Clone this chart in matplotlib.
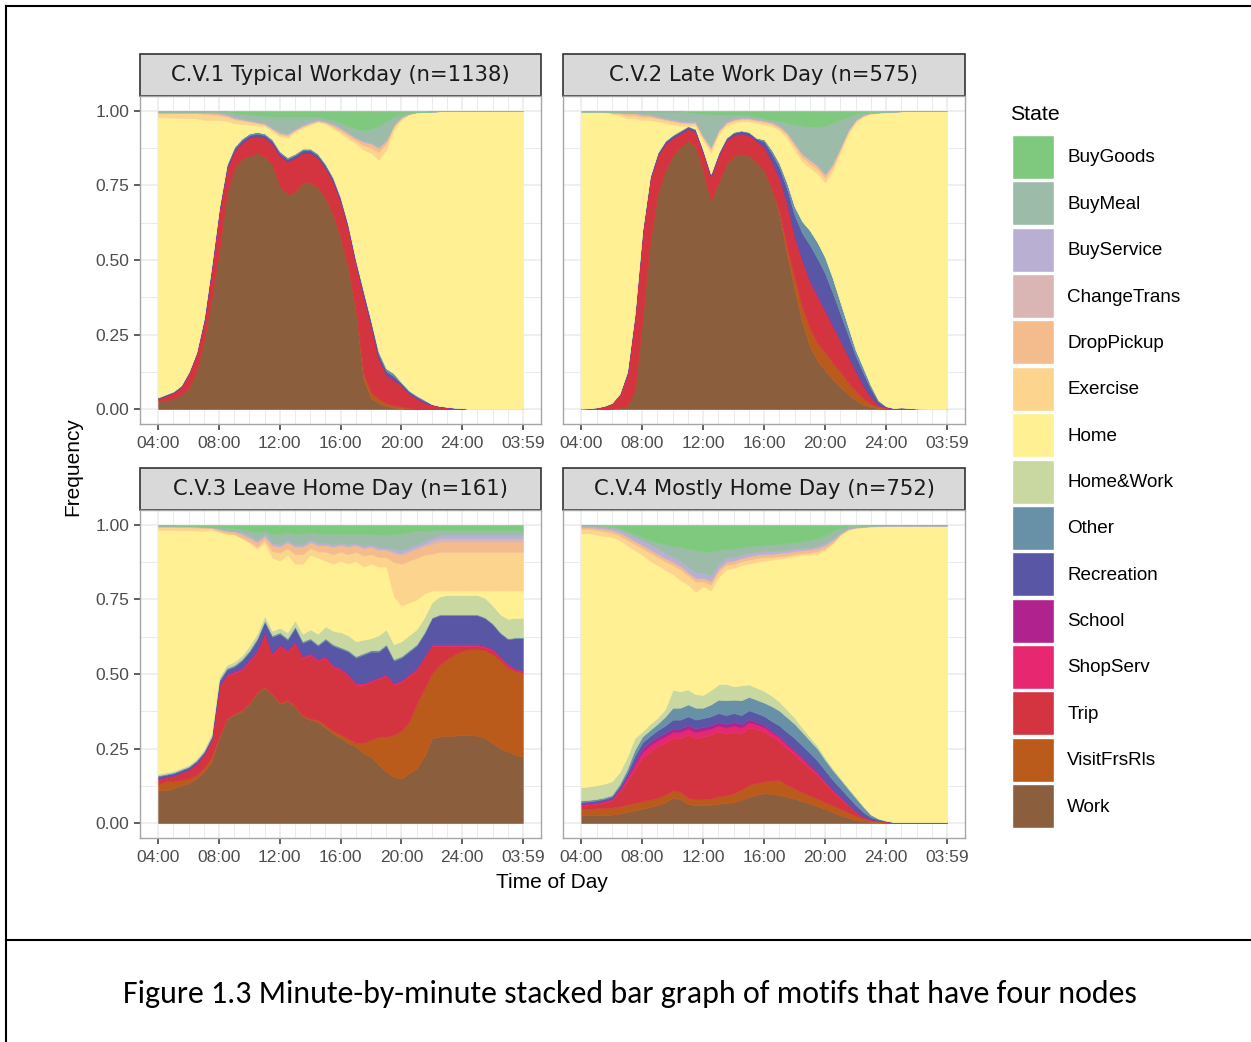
import numpy as np
import matplotlib
matplotlib.use("Agg")
import matplotlib.pyplot as plt
from matplotlib.patches import Patch, Rectangle
from matplotlib.lines import Line2D

plt.rcParams['font.family'] = ['Liberation Sans', 'DejaVu Sans']

# minutes after 04:00, sampled every half hour
minutes = [0, 30, 60, 90, 120, 150, 180, 210, 240, 270,
           300, 330, 360, 390, 420, 450, 480, 510, 540, 570,
           600, 630, 660, 690, 720, 750, 780, 810, 840, 870,
           900, 930, 960, 990, 1020, 1050, 1080, 1110, 1140, 1170,
           1200, 1230, 1260, 1290, 1320, 1350, 1380, 1410, 1439]

tick_minutes = [0, 240, 480, 720, 960, 1200, 1439]
tick_labels = ['04:00', '08:00', '12:00', '16:00', '20:00', '24:00', '03:59']
freq_ticks = [0, 0.25, 0.5, 0.75, 1.0]
freq_labels = ['0.00', '0.25', '0.50', '0.75', '1.00']

states = ['BuyGoods', 'BuyMeal', 'BuyService', 'ChangeTrans', 'DropPickup',
          'Exercise', 'Home', 'Home&Work', 'Other', 'Recreation', 'School',
          'ShopServ', 'Trip', 'VisitFrsRls', 'Work']
state_colors = ['#7FC97F', '#9CBBA8', '#B9AFD3', '#D9B5B4', '#F4BB8D',
                '#FDD48E', '#FEF093', '#C9D8A1', '#6891A8', '#5A56A6', '#B0228E',
                '#E7276F', '#D4343F', '#BA5A1B', '#8B5E3E']

titles = ['C.V.1 Typical Workday (n=1138)', 'C.V.2 Late Work Day (n=575)',
          'C.V.3 Leave Home Day (n=161)', 'C.V.4 Mostly Home Day (n=752)']

# ---------------- C.V.1 ----------------
cv1_work = [0.03, 0.03, 0.035, 0.05, 0.07, 0.125, 0.23, 0.37, 0.53, 0.72,
            0.81, 0.84, 0.85, 0.86, 0.845, 0.82, 0.75, 0.72, 0.73, 0.76,
            0.76, 0.745, 0.71, 0.655, 0.575, 0.47, 0.33, 0.10, 0.035, 0.02,
            0.01, 0.005, 0.003, 0, 0, 0, 0, 0, 0, 0,
            0, 0, 0, 0, 0, 0, 0, 0, 0]
cv1_visit = [0, 0, 0, 0, 0, 0, 0, 0, 0, 0,
             0, 0, 0, 0, 0, 0, 0, 0, 0, 0,
             0, 0, 0, 0, 0.002, 0.004, 0.006, 0.02, 0.02, 0.015,
             0.01, 0.007, 0.005, 0.003, 0.001, 0, 0, 0, 0, 0,
             0, 0, 0, 0, 0, 0, 0, 0, 0]
cv1_trip = [0.005, 0.015, 0.02, 0.025, 0.05, 0.06, 0.061, 0.10, 0.133, 0.086,
            0.056, 0.054, 0.061, 0.056, 0.066, 0.071, 0.101, 0.111, 0.113, 0.10,
            0.10, 0.098, 0.099, 0.109, 0.12, 0.132, 0.153, 0.262, 0.226, 0.136,
            0.095, 0.086, 0.072, 0.05, 0.035, 0.022, 0.015, 0.009, 0.006, 0.003,
            0.002, 0, 0, 0, 0, 0, 0, 0, 0]
cv1_rec = [0.003, 0.003, 0.003, 0.003, 0.003, 0.003, 0.008, 0.008, 0.008, 0.008,
           0.008, 0.008, 0.008, 0.008, 0.008, 0.008, 0.008, 0.008, 0.008, 0.008,
           0.008, 0.008, 0.008, 0.008, 0.008, 0.008, 0.008, 0.012, 0.012, 0.012,
           0.012, 0.012, 0.006, 0.006, 0.006, 0.006, 0.002, 0.002, 0.002, 0.002,
           0.002, 0, 0, 0, 0, 0, 0, 0, 0]
cv1_other = [0.002, 0.002, 0.002, 0.002, 0.002, 0.002, 0.006, 0.006, 0.006, 0.006,
             0.006, 0.006, 0.006, 0.006, 0.006, 0.006, 0.006, 0.006, 0.006, 0.006,
             0.006, 0.006, 0.006, 0.006, 0.006, 0.006, 0.006, 0.006, 0.006, 0.01,
             0.01, 0.01, 0.004, 0.004, 0.004, 0.004, 0, 0, 0, 0,
             0, 0, 0, 0, 0, 0, 0, 0, 0]
cv1_exercise = [0.017, 0.017, 0.018, 0.018, 0.02, 0.02, 0.02, 0.018, 0.015, 0.015,
                0.013, 0.012, 0.01, 0.008, 0.006, 0.006, 0.007, 0.007, 0.005, 0.005,
                0.005, 0.003, 0.004, 0.008, 0.008, 0.01, 0.01, 0.015, 0.018, 0.025,
                0.02, 0.012, 0.006, 0.003, 0.002, 0.001, 0, 0, 0, 0,
                0, 0, 0, 0, 0, 0, 0, 0, 0]
cv1_droppickup = [0, 0, 0, 0, 0, 0, 0.005, 0.007, 0.007, 0.006,
                  0.005, 0.004, 0.003, 0.003, 0.003, 0.004, 0.005, 0.005, 0.004, 0.004,
                  0.004, 0.003, 0.003, 0.007, 0.008, 0.008, 0.008, 0.012, 0.015, 0.015,
                  0.012, 0.006, 0.003, 0.001, 0, 0, 0, 0, 0, 0,
                  0, 0, 0, 0, 0, 0, 0, 0, 0]
cv1_buyservice = [0, 0, 0, 0, 0, 0, 0, 0, 0.003, 0.003,
                  0.003, 0.003, 0.003, 0.003, 0.003, 0.003, 0.003, 0.003, 0.003, 0.003,
                  0.003, 0.003, 0.003, 0.003, 0.003, 0.003, 0.003, 0.003, 0.003, 0.003,
                  0.003, 0, 0, 0, 0, 0, 0, 0, 0, 0,
                  0, 0, 0, 0, 0, 0, 0, 0, 0]
cv1_buymeal = [0.003, 0.003, 0.003, 0.003, 0.003, 0.003, 0.003, 0.003, 0.003, 0.008,
               0.012, 0.015, 0.018, 0.02, 0.022, 0.035, 0.05, 0.055, 0.038, 0.025,
               0.015, 0.008, 0.008, 0.012, 0.015, 0.022, 0.028, 0.035, 0.045, 0.07,
               0.06, 0.025, 0.01, 0.003, 0, 0, 0, 0, 0, 0,
               0, 0, 0, 0, 0, 0, 0, 0, 0]
cv1_buygoods = [0.002, 0.002, 0.002, 0.002, 0.002, 0.002, 0.002, 0.002, 0.002, 0.002,
                0.008, 0.01, 0.012, 0.015, 0.017, 0.02, 0.02, 0.02, 0.02, 0.02,
                0.02, 0.02, 0.025, 0.03, 0.04, 0.05, 0.06, 0.065, 0.06, 0.05,
                0.035, 0.02, 0.01, 0.006, 0.004, 0.003, 0.002, 0.001, 0, 0,
                0, 0, 0, 0, 0, 0, 0, 0, 0]

# ---------------- C.V.2 ----------------
cv2_work = [0, 0, 0, 0, 0.002, 0.005, 0.01, 0.06, 0.30, 0.56,
            0.72, 0.80, 0.85, 0.88, 0.90, 0.88, 0.80, 0.70, 0.76, 0.82,
            0.85, 0.857, 0.85, 0.83, 0.80, 0.74, 0.65, 0.52, 0.40, 0.29,
            0.21, 0.16, 0.13, 0.10, 0.075, 0.05, 0.03, 0.015, 0.007, 0.003,
            0.001, 0, 0, 0, 0, 0, 0, 0, 0]
cv2_visit = [0, 0, 0, 0, 0, 0, 0, 0, 0, 0,
             0, 0, 0, 0, 0, 0, 0, 0, 0, 0,
             0, 0, 0, 0, 0, 0, 0.01, 0.02, 0.04, 0.05,
             0.06, 0.06, 0.06, 0.055, 0.05, 0.04, 0.03, 0.02, 0.01, 0.005,
             0.002, 0, 0, 0, 0, 0, 0, 0, 0]
cv2_trip = [0.001, 0.002, 0.005, 0.01, 0.018, 0.045, 0.105, 0.25, 0.29, 0.21,
            0.13, 0.09, 0.06, 0.045, 0.04, 0.05, 0.06, 0.08, 0.09, 0.08,
            0.07, 0.068, 0.07, 0.07, 0.08, 0.09, 0.11, 0.145, 0.135, 0.155,
            0.155, 0.155, 0.135, 0.12, 0.10, 0.09, 0.07, 0.045, 0.023, 0.007,
            0.003, 0.004, 0.006, 0.004, 0.002, 0.001, 0, 0, 0]
cv2_shopserv = [0, 0, 0, 0, 0, 0, 0, 0, 0, 0,
                0, 0, 0, 0, 0, 0, 0, 0, 0, 0,
                0, 0, 0, 0, 0, 0, 0.005, 0.005, 0.005, 0.005,
                0.005, 0.005, 0.005, 0.005, 0.005, 0, 0, 0, 0, 0,
                0, 0, 0, 0, 0, 0, 0, 0, 0]
cv2_rec = [0.001, 0.001, 0.001, 0.001, 0.001, 0.001, 0.007, 0.007, 0.007, 0.007,
           0.007, 0.007, 0.007, 0.007, 0.007, 0.007, 0.007, 0.007, 0.007, 0.007,
           0.007, 0.007, 0.007, 0.007, 0.017, 0.028, 0.035, 0.05, 0.07, 0.09,
           0.12, 0.125, 0.125, 0.11, 0.09, 0.07, 0.05, 0.042, 0.028, 0.01,
           0.003, 0, 0, 0, 0, 0, 0, 0, 0]
cv2_other = [0, 0, 0, 0, 0, 0, 0.003, 0.003, 0.003, 0.003,
             0.003, 0.003, 0.003, 0.003, 0.003, 0.003, 0.003, 0.003, 0.003, 0.003,
             0.003, 0.003, 0.003, 0.003, 0.008, 0.012, 0.015, 0.02, 0.03, 0.04,
             0.05, 0.055, 0.055, 0.05, 0.04, 0.03, 0.02, 0.018, 0.012, 0.005,
             0.001, 0, 0, 0, 0, 0, 0, 0, 0]
cv2_exercise = [0, 0.001, 0.001, 0.001, 0.005, 0.007, 0.01, 0.01, 0.01, 0.01,
                0.01, 0.01, 0.01, 0.01, 0.008, 0.008, 0.01, 0.012, 0.01, 0.008,
                0.008, 0.007, 0.007, 0.007, 0.007, 0.007, 0.008, 0.01, 0.012, 0.014,
                0.014, 0.015, 0.015, 0.014, 0.012, 0.01, 0.007, 0.005, 0.003, 0.002,
                0.002, 0.001, 0.001, 0, 0, 0, 0, 0, 0]
cv2_droppickup = [0, 0, 0, 0, 0, 0.003, 0.008, 0.008, 0.008, 0.006,
                  0.005, 0.004, 0.004, 0.004, 0.004, 0.004, 0.005, 0.006, 0.005, 0.004,
                  0.004, 0.004, 0.004, 0.004, 0.005, 0.005, 0.006, 0.008, 0.01, 0.012,
                  0.012, 0.012, 0.012, 0.01, 0.008, 0.006, 0.004, 0.002, 0.001, 0,
                  0, 0, 0, 0, 0, 0, 0, 0, 0]
cv2_buyservice = [0, 0, 0, 0, 0, 0, 0, 0, 0.003, 0.003,
                  0.003, 0.003, 0.003, 0.003, 0.003, 0.003, 0.003, 0.003, 0.003, 0.003,
                  0.003, 0.003, 0.003, 0.003, 0.003, 0.003, 0.003, 0.003, 0.003, 0.003,
                  0.003, 0.003, 0.003, 0.003, 0, 0, 0, 0, 0, 0,
                  0, 0, 0, 0, 0, 0, 0, 0, 0]
cv2_buymeal = [0, 0, 0, 0, 0.003, 0.003, 0.005, 0.005, 0.007, 0.009,
               0.015, 0.021, 0.026, 0.031, 0.03, 0.027, 0.072, 0.107, 0.05, 0.023,
               0.013, 0.008, 0.006, 0.006, 0.005, 0.005, 0.013, 0.029, 0.06, 0.091,
               0.106, 0.125, 0.16, 0.133, 0.09, 0.044, 0.017, 0.007, 0.002, 0.002,
               0.001, 0, 0, 0, 0, 0, 0, 0, 0]
cv2_buygoods = [0.002, 0.002, 0.002, 0.002, 0.002, 0.002, 0.002, 0.002, 0.002, 0.002,
                0.002, 0.002, 0.002, 0.002, 0.005, 0.008, 0.01, 0.012, 0.012, 0.012,
                0.012, 0.013, 0.015, 0.02, 0.025, 0.03, 0.035, 0.04, 0.045, 0.05,
                0.055, 0.055, 0.05, 0.04, 0.03, 0.02, 0.012, 0.006, 0.004, 0.003,
                0.002, 0.002, 0.001, 0, 0, 0, 0, 0, 0]

# ---------------- C.V.3 ----------------
cv3_work = [0.11, 0.11, 0.116, 0.127, 0.133, 0.15, 0.172, 0.206, 0.285, 0.347,
            0.364, 0.375, 0.40, 0.437, 0.454, 0.43, 0.40, 0.41, 0.39, 0.358,
            0.347, 0.34, 0.32, 0.30, 0.285, 0.268, 0.257, 0.234, 0.223, 0.195,
            0.172, 0.155, 0.15, 0.167, 0.184, 0.223, 0.285, 0.29, 0.293, 0.293,
            0.296, 0.296, 0.293, 0.285, 0.268, 0.25, 0.24, 0.229, 0.223]
cv3_visit = [0.02, 0.03, 0.024, 0.018, 0.017, 0.01, 0.013, 0.014, 0.005, 0.003,
             0.003, 0.003, 0.003, 0.003, 0.003, 0.003, 0.003, 0.003, 0.003, 0.003,
             0.003, 0.005, 0.008, 0.01, 0.012, 0.015, 0.013, 0.036, 0.057, 0.095,
             0.118, 0.14, 0.16, 0.173, 0.216, 0.227, 0.215, 0.24, 0.257, 0.272,
             0.282, 0.287, 0.29, 0.295, 0.297, 0.295, 0.28, 0.281, 0.282]
cv3_trip = [0.017, 0.012, 0.017, 0.022, 0.027, 0.037, 0.042, 0.057, 0.164, 0.144,
            0.137, 0.136, 0.141, 0.134, 0.177, 0.131, 0.191, 0.161, 0.211, 0.193,
            0.214, 0.199, 0.226, 0.214, 0.217, 0.211, 0.194, 0.194, 0.194, 0.194,
            0.204, 0.169, 0.164, 0.154, 0.114, 0.104, 0.094, 0.064, 0.044, 0.029,
            0.016, 0.011, 0.011, 0.009, 0.014, 0.009, 0.009, 0.002, 0.002]
cv3_shopserv = [0.002, 0.002, 0.002, 0.002, 0.002, 0.002, 0.002, 0.002, 0.004, 0.004,
                0.004, 0.004, 0.004, 0.004, 0.004, 0.004, 0.004, 0.004, 0.004, 0.004,
                0.004, 0.004, 0.004, 0.004, 0.004, 0.004, 0.004, 0.004, 0.004, 0.004,
                0.004, 0.004, 0.004, 0.004, 0.004, 0.004, 0.004, 0.004, 0.004, 0.004,
                0.004, 0.004, 0.004, 0.004, 0.004, 0.004, 0.004, 0.004, 0.004]
cv3_school = [0.001, 0.001, 0.001, 0.001, 0.001, 0.001, 0.001, 0.001, 0.002, 0.002,
              0.002, 0.002, 0.002, 0.002, 0.002, 0.002, 0.002, 0.002, 0.002, 0.002,
              0.002, 0.002, 0.002, 0.002, 0.002, 0.002, 0.002, 0.002, 0.002, 0.002,
              0.002, 0.002, 0.002, 0.002, 0.002, 0.002, 0.002, 0.002, 0.002, 0.002,
              0.002, 0.002, 0.002, 0.002, 0.002, 0.002, 0.002, 0.002, 0.002]
cv3_rec = [0.007, 0.007, 0.007, 0.007, 0.007, 0.007, 0.007, 0.007, 0.015, 0.015,
           0.015, 0.025, 0.025, 0.035, 0.035, 0.055, 0.035, 0.035, 0.045, 0.045,
           0.045, 0.045, 0.055, 0.065, 0.065, 0.075, 0.085, 0.095, 0.095, 0.085,
           0.095, 0.075, 0.075, 0.075, 0.075, 0.075, 0.087, 0.097, 0.097, 0.097,
           0.097, 0.097, 0.097, 0.092, 0.082, 0.077, 0.082, 0.102, 0.107]
cv3_other = [0.003, 0.003, 0.003, 0.003, 0.003, 0.003, 0.003, 0.003, 0.005, 0.005,
             0.005, 0.005, 0.005, 0.005, 0.005, 0.005, 0.005, 0.005, 0.005, 0.005,
             0.005, 0.005, 0.005, 0.005, 0.005, 0.005, 0.005, 0.005, 0.005, 0.005,
             0.005, 0.005, 0.005, 0.005, 0.005, 0.005, 0.003, 0.003, 0.003, 0.003,
             0.003, 0.003, 0.003, 0.003, 0.003, 0.003, 0.003, 0.003, 0.003]
cv3_homework = [0.005, 0.005, 0.005, 0.005, 0.005, 0.005, 0.007, 0.01, 0.01, 0.01,
                0.012, 0.012, 0.015, 0.015, 0.015, 0.015, 0.015, 0.02, 0.02, 0.025,
                0.03, 0.035, 0.04, 0.045, 0.05, 0.05, 0.05, 0.045, 0.04, 0.05,
                0.05, 0.05, 0.05, 0.05, 0.05, 0.05, 0.05, 0.06, 0.065, 0.065,
                0.065, 0.065, 0.065, 0.065, 0.06, 0.06, 0.065, 0.065, 0.065]
cv3_exercise = [0.01, 0.01, 0.01, 0.01, 0.01, 0.01, 0.01, 0.006, 0.003, 0.002,
                0.002, 0.003, 0.005, 0.007, 0.01, 0.022, 0.027, 0.022, 0.032, 0.032,
                0.022, 0.022, 0.03, 0.032, 0.03, 0.032, 0.03, 0.037, 0.032, 0.032,
                0.032, 0.115, 0.14, 0.14, 0.14, 0.13, 0.123, 0.13, 0.13, 0.13,
                0.13, 0.13, 0.13, 0.13, 0.13, 0.13, 0.13, 0.13, 0.13]
cv3_droppickup = [0.002, 0.002, 0.002, 0.002, 0.002, 0.002, 0.002, 0.002, 0.005, 0.008,
                  0.008, 0.01, 0.012, 0.015, 0.012, 0.02, 0.02, 0.02, 0.025, 0.025,
                  0.02, 0.02, 0.022, 0.025, 0.022, 0.025, 0.022, 0.025, 0.025, 0.025,
                  0.025, 0.03, 0.03, 0.03, 0.03, 0.03, 0.032, 0.034, 0.034, 0.034,
                  0.034, 0.034, 0.034, 0.034, 0.034, 0.034, 0.034, 0.034, 0.034]
cv3_changetrans = [0.002, 0.002, 0.002, 0.002, 0.002, 0.002, 0.002, 0.002, 0.002, 0.002,
                   0.002, 0.002, 0.002, 0.002, 0.002, 0.002, 0.002, 0.002, 0.002, 0.002,
                   0.002, 0.002, 0.002, 0.002, 0.002, 0.002, 0.002, 0.002, 0.002, 0.002,
                   0.002, 0.005, 0.005, 0.005, 0.005, 0.005, 0.011, 0.011, 0.011, 0.011,
                   0.011, 0.011, 0.011, 0.011, 0.011, 0.011, 0.011, 0.011, 0.011]
cv3_buyservice = [0, 0, 0, 0, 0, 0, 0, 0, 0, 0,
                  0, 0.005, 0.006, 0.006, 0.006, 0.006, 0.006, 0.006, 0.006, 0.006,
                  0.006, 0.006, 0.006, 0.006, 0.006, 0.006, 0.006, 0.006, 0.006, 0.006,
                  0.006, 0.01, 0.01, 0.01, 0.01, 0.01, 0.011, 0.011, 0.011, 0.011,
                  0.011, 0.011, 0.011, 0.011, 0.011, 0.011, 0.011, 0.011, 0.011]
cv3_buymeal = [0.001, 0.001, 0.001, 0.001, 0.001, 0.001, 0.001, 0.001, 0.005, 0.008,
               0.008, 0.01, 0.015, 0.025, 0.01, 0.03, 0.035, 0.025, 0.035, 0.035,
               0.025, 0.03, 0.03, 0.035, 0.03, 0.035, 0.03, 0.04, 0.035, 0.04,
               0.04, 0.05, 0.055, 0.05, 0.045, 0.035, 0.025, 0.017, 0.017, 0.017,
               0.017, 0.017, 0.017, 0.017, 0.017, 0.017, 0.017, 0.017, 0.017]
cv3_buygoods = [0.002, 0.002, 0.002, 0.003, 0.003, 0.004, 0.005, 0.006, 0.008, 0.01,
                0.012, 0.015, 0.02, 0.025, 0.02, 0.03, 0.03, 0.025, 0.03, 0.03,
                0.025, 0.03, 0.03, 0.03, 0.03, 0.03, 0.03, 0.03, 0.03, 0.035,
                0.035, 0.03, 0.03, 0.025, 0.02, 0.02, 0.018, 0.017, 0.017, 0.017,
                0.017, 0.017, 0.017, 0.017, 0.017, 0.017, 0.017, 0.017, 0.017]

# ---------------- C.V.4 ----------------
cv4_work = [0.026, 0.026, 0.026, 0.027, 0.028, 0.032, 0.037, 0.042, 0.048, 0.054,
            0.06, 0.07, 0.085, 0.08, 0.065, 0.06, 0.06, 0.062, 0.065, 0.068,
            0.07, 0.078, 0.088, 0.095, 0.10, 0.098, 0.094, 0.088, 0.082, 0.073,
            0.065, 0.056, 0.048, 0.037, 0.026, 0.018, 0.01, 0.006, 0.004, 0.003,
            0.002, 0.001, 0.001, 0.001, 0.001, 0.001, 0.001, 0.001, 0.001]
cv4_visit = [0.022, 0.022, 0.024, 0.024, 0.024, 0.024, 0.025, 0.025, 0.025, 0.025,
             0.025, 0.025, 0.025, 0.025, 0.02, 0.02, 0.02, 0.02, 0.025, 0.025,
             0.03, 0.035, 0.04, 0.04, 0.04, 0.045, 0.05, 0.04, 0.034, 0.03,
             0.028, 0.025, 0.022, 0.022, 0.022, 0.018, 0.015, 0.01, 0.006, 0.004,
             0.002, 0, 0, 0, 0, 0, 0, 0, 0]
cv4_trip = [0.012, 0.014, 0.015, 0.019, 0.025, 0.049, 0.078, 0.113, 0.147, 0.161,
            0.172, 0.175, 0.175, 0.18, 0.211, 0.205, 0.21, 0.214, 0.217, 0.207,
            0.207, 0.187, 0.192, 0.18, 0.167, 0.147, 0.13, 0.122, 0.114, 0.103,
            0.09, 0.079, 0.063, 0.046, 0.034, 0.024, 0.012, 0.004, 0.002, 0.002,
            0.002, 0.003, 0.003, 0.003, 0.003, 0.003, 0.003, 0.003, 0.002]
cv4_shopserv = [0.003, 0.003, 0.003, 0.003, 0.004, 0.006, 0.01, 0.015, 0.018, 0.02,
                0.02, 0.02, 0.02, 0.02, 0.02, 0.02, 0.02, 0.02, 0.02, 0.02,
                0.02, 0.02, 0.018, 0.016, 0.015, 0.014, 0.013, 0.012, 0.011, 0.01,
                0.009, 0.008, 0.007, 0.006, 0.005, 0.004, 0.003, 0.002, 0.001, 0,
                0, 0, 0, 0, 0, 0, 0, 0, 0]
cv4_school = [0.002, 0.002, 0.002, 0.002, 0.002, 0.003, 0.006, 0.01, 0.012, 0.012,
              0.012, 0.012, 0.012, 0.012, 0.012, 0.012, 0.012, 0.012, 0.012, 0.012,
              0.012, 0.012, 0.01, 0.008, 0.007, 0.006, 0.005, 0.005, 0.004, 0.004,
              0.003, 0.003, 0.002, 0.002, 0.002, 0.001, 0.001, 0, 0, 0,
              0, 0, 0, 0, 0, 0, 0, 0, 0]
cv4_rec = [0.006, 0.006, 0.006, 0.006, 0.006, 0.008, 0.012, 0.02, 0.02, 0.02,
           0.022, 0.025, 0.03, 0.03, 0.03, 0.03, 0.03, 0.03, 0.03, 0.03,
           0.03, 0.03, 0.03, 0.03, 0.03, 0.032, 0.035, 0.038, 0.04, 0.04,
           0.04, 0.038, 0.035, 0.032, 0.028, 0.024, 0.02, 0.015, 0.007, 0.003,
           0.001, 0, 0, 0, 0, 0, 0, 0, 0]
cv4_other = [0.005, 0.005, 0.005, 0.005, 0.005, 0.008, 0.012, 0.02, 0.02, 0.02,
             0.022, 0.03, 0.04, 0.04, 0.04, 0.04, 0.035, 0.04, 0.045, 0.05,
             0.045, 0.05, 0.045, 0.045, 0.045, 0.05, 0.05, 0.05, 0.048, 0.045,
             0.042, 0.04, 0.035, 0.033, 0.03, 0.027, 0.024, 0.018, 0.008, 0.003,
             0.001, 0, 0, 0, 0, 0, 0, 0, 0]
cv4_homework = [0.044, 0.045, 0.046, 0.046, 0.046, 0.04, 0.04, 0.04, 0.017, 0.02,
                0.02, 0.025, 0.06, 0.055, 0.05, 0.045, 0.043, 0.048, 0.051, 0.055,
                0.045, 0.05, 0.042, 0.04, 0.039, 0.035, 0.03, 0.025, 0.02, 0.015,
                0.012, 0.01, 0.008, 0.006, 0.005, 0.004, 0.004, 0.003, 0.002, 0.001,
                0.001, 0, 0, 0, 0, 0, 0, 0, 0]
cv4_exercise = [0.015, 0.015, 0.016, 0.016, 0.014, 0.015, 0.018, 0.02, 0.022, 0.027,
                0.028, 0.028, 0.03, 0.036, 0.031, 0.035, 0.015, 0.02, 0.018, 0.016,
                0.014, 0.013, 0.014, 0.013, 0.012, 0.009, 0.008, 0.006, 0.007, 0.005,
                0.007, 0.008, 0.006, 0.003, 0.002, 0.002, 0.002, 0.002, 0.002, 0.002,
                0.002, 0.001, 0.001, 0.001, 0.001, 0.001, 0.001, 0.001, 0.001]
cv4_droppickup = [0.005, 0.005, 0.006, 0.007, 0.008, 0.009, 0.01, 0.01, 0.01, 0.01,
                  0.01, 0.01, 0.01, 0.01, 0.01, 0.011, 0.011, 0.011, 0.01, 0.01,
                  0.01, 0.01, 0.01, 0.01, 0.01, 0.01, 0.01, 0.01, 0.01, 0.01,
                  0.01, 0.01, 0.01, 0.007, 0.004, 0.002, 0.001, 0, 0, 0,
                  0, 0, 0, 0, 0, 0, 0, 0, 0]
cv4_changetrans = [0.002, 0.002, 0.002, 0.002, 0.002, 0.002, 0.002, 0.002, 0.002, 0.002,
                   0.002, 0.002, 0.002, 0.002, 0.002, 0.002, 0.002, 0.002, 0.002, 0.002,
                   0.002, 0.002, 0.002, 0.002, 0.002, 0.002, 0.002, 0.002, 0.002, 0.002,
                   0.002, 0.002, 0.002, 0.002, 0, 0, 0, 0, 0, 0,
                   0, 0, 0, 0, 0, 0, 0, 0, 0]
cv4_buyservice = [0.003, 0.003, 0.004, 0.005, 0.006, 0.008, 0.01, 0.012, 0.014, 0.016,
                  0.017, 0.017, 0.017, 0.017, 0.017, 0.017, 0.017, 0.017, 0.015, 0.012,
                  0.011, 0.01, 0.01, 0.009, 0.008, 0.008, 0.007, 0.007, 0.006, 0.006,
                  0.006, 0.006, 0.006, 0.005, 0.003, 0.002, 0.001, 0.001, 0, 0,
                  0, 0, 0, 0, 0, 0, 0, 0, 0]
cv4_buymeal = [0.002, 0.002, 0.003, 0.004, 0.005, 0.006, 0.008, 0.01, 0.012, 0.015,
               0.018, 0.028, 0.035, 0.045, 0.06, 0.075, 0.07, 0.08, 0.045, 0.03,
               0.028, 0.025, 0.022, 0.02, 0.02, 0.022, 0.022, 0.022, 0.022, 0.022,
               0.025, 0.025, 0.025, 0.025, 0.015, 0.006, 0.004, 0.003, 0.002, 0.002,
               0.001, 0.001, 0.001, 0.001, 0.001, 0.001, 0.001, 0.001, 0.001]
cv4_buygoods = [0.001, 0.001, 0.002, 0.003, 0.005, 0.01, 0.02, 0.03, 0.04, 0.05,
                0.06, 0.065, 0.07, 0.075, 0.08, 0.085, 0.09, 0.09, 0.085, 0.08,
                0.08, 0.075, 0.072, 0.07, 0.068, 0.066, 0.064, 0.062, 0.058, 0.055,
                0.05, 0.045, 0.035, 0.02, 0.01, 0.005, 0.003, 0.002, 0.002, 0.001,
                0.001, 0.001, 0.001, 0.001, 0.001, 0.001, 0.001, 0.001, 0.001]

panels = [
    {'Work': cv1_work, 'VisitFrsRls': cv1_visit, 'Trip': cv1_trip,
     'Recreation': cv1_rec, 'Other': cv1_other, 'Exercise': cv1_exercise,
     'DropPickup': cv1_droppickup, 'BuyService': cv1_buyservice,
     'BuyMeal': cv1_buymeal, 'BuyGoods': cv1_buygoods},
    {'Work': cv2_work, 'VisitFrsRls': cv2_visit, 'Trip': cv2_trip,
     'ShopServ': cv2_shopserv, 'Recreation': cv2_rec, 'Other': cv2_other,
     'Exercise': cv2_exercise, 'DropPickup': cv2_droppickup,
     'BuyService': cv2_buyservice, 'BuyMeal': cv2_buymeal, 'BuyGoods': cv2_buygoods},
    {'Work': cv3_work, 'VisitFrsRls': cv3_visit, 'Trip': cv3_trip,
     'ShopServ': cv3_shopserv, 'School': cv3_school, 'Recreation': cv3_rec,
     'Other': cv3_other, 'Home&Work': cv3_homework, 'Exercise': cv3_exercise,
     'DropPickup': cv3_droppickup, 'ChangeTrans': cv3_changetrans,
     'BuyService': cv3_buyservice, 'BuyMeal': cv3_buymeal, 'BuyGoods': cv3_buygoods},
    {'Work': cv4_work, 'VisitFrsRls': cv4_visit, 'Trip': cv4_trip,
     'ShopServ': cv4_shopserv, 'School': cv4_school, 'Recreation': cv4_rec,
     'Other': cv4_other, 'Home&Work': cv4_homework, 'Exercise': cv4_exercise,
     'DropPickup': cv4_droppickup, 'ChangeTrans': cv4_changetrans,
     'BuyService': cv4_buyservice, 'BuyMeal': cv4_buymeal, 'BuyGoods': cv4_buygoods},
]

W, H = 1251, 1042
fig = plt.figure(figsize=(W / 100, H / 100), dpi=100)

# axes boxes in pixels: (left, top, right, bottom)
boxes = [(140, 96, 541, 424), (563, 96, 965, 424),
         (140, 510, 541, 838), (563, 510, 965, 838)]
strip_h = 42

color_of = dict(zip(states, state_colors))
n = len(minutes)
x = np.array(minutes)

for k, (box, title, series) in enumerate(zip(boxes, titles, panels)):
    l, t, r, b = box
    ax = fig.add_axes([l / W, 1 - b / H, (r - l) / W, (b - t) / H])

    vals = {}
    for s in states:
        v = series.get(s, [0] * n)
        assert len(v) == n, (title, s, len(v))
        vals[s] = np.array(v, dtype=float)
    others = sum(vals[s] for s in states if s != 'Home')
    vals['Home'] = np.clip(1 - others, 0, None)
    total = sum(vals[s] for s in states)

    order = states[::-1]  # Work at the bottom, BuyGoods on top
    polys = ax.stackplot(x, *[vals[s] / total for s in order],
                         colors=[color_of[s] for s in order], linewidth=0)
    for p in polys:
        p.set_edgecolor(p.get_facecolor())
        p.set_linewidth(0.4)

    ax.set_xlim(-0.05 * 1439, 1.05 * 1439)
    ax.set_ylim(-0.05, 1.05)
    ax.set_xticks(tick_minutes)
    ax.set_xticklabels(tick_labels)
    ax.set_xticks(list(range(0, 1440, 60)), minor=True)
    ax.set_yticks(freq_ticks)
    ax.set_yticklabels(freq_labels)
    ax.set_yticks([0.125, 0.375, 0.625, 0.875], minor=True)
    ax.grid(True, which='major', color='#EBEBEB', linewidth=1.1)
    ax.grid(True, which='minor', color='#EBEBEB', linewidth=0.7)
    ax.set_axisbelow(True)
    ax.tick_params(which='minor', length=0)
    ax.tick_params(which='major', length=4.5, width=1.1, color='#333333',
                   labelsize=12.5, labelcolor='#4D4D4D', pad=3)
    ax.tick_params(axis='x', which='major', pad=4.5)
    if k % 2 == 1:
        ax.tick_params(axis='y', which='major', length=0, labelleft=False)
    for sp in ax.spines.values():
        sp.set_color('#A6A6A6')
        sp.set_linewidth(1.0)

    ax.add_patch(Rectangle((0, 1), 1, strip_h / (b - t), transform=ax.transAxes,
                           facecolor='#D9D9D9', edgecolor='#333333', linewidth=1.2,
                           clip_on=False))
    ax.text(0.5, 1 + strip_h / (b - t) / 2, title, transform=ax.transAxes,
            ha='center', va='center', fontsize=15.2, color='#1A1A1A',
            family='DejaVu Sans')

fig.text(73 / W, 1 - 467 / H, 'Frequency', rotation=90, ha='center', va='center',
         fontsize=15, color='black')
fig.text(552 / W, 1 - 882 / H, 'Time of Day', ha='center', va='center',
         fontsize=15, color='black')

# legend: title drawn separately, keys stacked below it
fig.text(1010 / W, 1 - 114 / H, 'State', ha='left', va='center',
         fontsize=15.3, color='black')
handles = [Patch(facecolor=c, edgecolor='white', linewidth=1.0) for c in state_colors]
leg = fig.legend(handles, states, loc='upper left',
                 bbox_to_anchor=(1012 / W, 1 - 135 / H), frameon=False,
                 fontsize=13.6, handlelength=2.2, handleheight=3.2,
                 labelspacing=0.13, handletextpad=0.72, borderaxespad=0,
                 borderpad=0)

# page frame lines
fig.add_artist(Line2D([6 / W, 1], [1 - 6 / H, 1 - 6 / H], transform=fig.transFigure,
                      color='black', linewidth=1.5))
fig.add_artist(Line2D([6 / W, 6 / W], [0, 1 - 6 / H], transform=fig.transFigure,
                      color='black', linewidth=1.5))
fig.add_artist(Line2D([6 / W, 1], [1 - 940 / H, 1 - 940 / H], transform=fig.transFigure,
                      color='black', linewidth=1.5))

caption = fig.text(630 / W, 1 - 994 / H,
                   'Figure 1.3 Minute-by-minute stacked bar graph of motifs that have four nodes',
                   ha='center', va='center', fontsize=20, color='black',
                   family=['Carlito', 'Open Sans', 'DejaVu Sans'])
fig.canvas.draw()
cw = caption.get_window_extent().width
caption.set_fontsize(20 * 1014 / cw)

fig.savefig('out.png', dpi=100)
